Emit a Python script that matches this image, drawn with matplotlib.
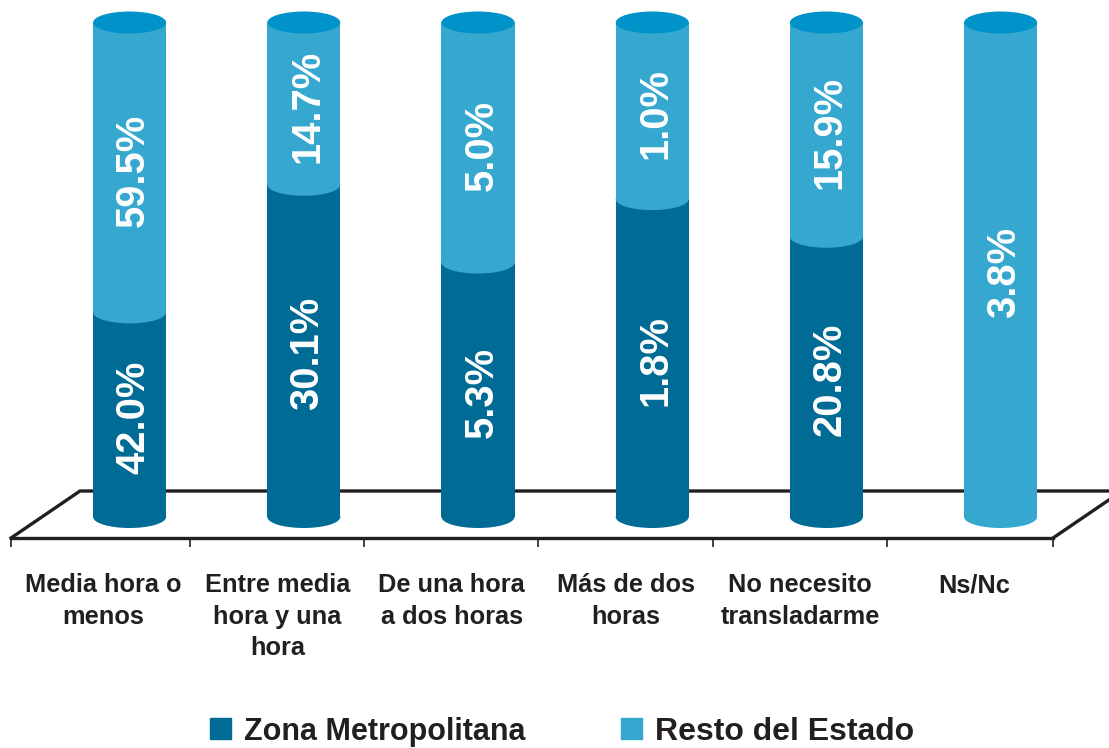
import numpy as np
import matplotlib
matplotlib.use("Agg")
import matplotlib.pyplot as plt
from matplotlib.patches import Ellipse, Patch

plt.rcParams['font.family'] = ['Liberation Sans', 'DejaVu Sans']

categories = ["Media hora o\nmenos", "Entre media\nhora y una\nhora", "De una hora\na dos horas",
              "Más de dos\nhoras", "No necesito\ntransladarme", "Ns/Nc"]
zona = np.array([42.0, 30.1, 5.3, 1.8, 20.8, 0.0])
resto = np.array([59.5, 14.7, 5.0, 1.0, 15.9, 3.8])
series_names = ["Zona Metropolitana", "Resto del Estado"]

DARK, LIGHT, TOP, INK = "#006B95", "#36A8CF", "#0093C9", "#231F20"
W, H = 1109, 748
fig = plt.figure(figsize=(W / 100, H / 100), dpi=100, facecolor="white")

# axes: bottom spine is the front edge of the floor
cat_px = 174.2
ax = fig.add_axes([11 / W, (H - 538) / H, 6 * cat_px / W, 538 / H])
y_px = 4.945
ax.set_xlim(-0.5, 5.5)
ax.set_ylim(-21 / y_px, 517 / y_px)

right_edge = -0.5 + (1053 - 11) / cat_px
depth_x = 69 / cat_px
shift_x = 31.5 / cat_px
bar_w = 73 / cat_px
ell_h = 22 / y_px
y0 = ax.get_ylim()[0]
floor_y = y0 + 47 / y_px

for s in ["top", "left", "right"]:
    ax.spines[s].set_visible(False)
ax.spines["bottom"].set_color(INK)
ax.spines["bottom"].set_linewidth(2.4)
ax.spines["bottom"].set_bounds(-0.5, right_edge)
ax.set_yticks([])
edge_ticks = [-0.5] + [i + 0.528 for i in range(5)] + [right_edge]
ax.set_xticks(edge_ticks)
ax.set_xticklabels([])
ax.tick_params(axis="x", which="major", length=6.5, width=1.2, color=INK)
ax.set_xticks(np.arange(6) + 0.03, labels=categories, minor=True)
ax.tick_params(axis="x", which="minor", length=0, pad=25.5, labelsize=18.3, labelcolor=INK)
for t in ax.get_xticklabels(minor=True):
    t.set_fontweight("bold")
    t.set_linespacing(1.38)

# floor
ax.plot([-0.5, -0.5 + depth_x, right_edge + depth_x], [y0, floor_y, floor_y], color=INK, lw=2.4,
        clip_on=False, zorder=1, solid_joinstyle="round")
ax.plot([right_edge, right_edge + depth_x], [y0, floor_y], color=INK, lw=2.4, clip_on=False, zorder=1)

total = zona + resto
z_pct = zona / total * 100
r_pct = resto / total * 100
xs = np.arange(6) + shift_x

ax.bar(xs, z_pct, width=bar_w, color=DARK, zorder=2)
ax.bar(xs, r_pct, width=bar_w, bottom=z_pct, color=LIGHT, zorder=2)

for x, z, r, zv, rv in zip(xs, z_pct, r_pct, zona, resto):
    if z > 0:
        ax.add_patch(Ellipse((x, 0), bar_w, ell_h, color=DARK, lw=0, zorder=2.5))
    ax.add_patch(Ellipse((x, z), bar_w, ell_h, color=LIGHT, lw=0, zorder=2.6))
    ax.add_patch(Ellipse((x, 100), bar_w, ell_h, color=TOP, lw=0, zorder=2.7))
    if zv > 0:
        ax.annotate(f"{zv:.1f}%", (x, z / 2), xytext=(2.5, -2), textcoords="offset points",
                    rotation=90, ha="center", va="center", color="white",
                    fontsize=28.7, fontweight="bold", zorder=4)
    ax.annotate(f"{rv:.1f}%", (x, z + r / 2), xytext=(2.5, -2), textcoords="offset points",
                rotation=90, ha="center", va="center", color="white",
                fontsize=28.7, fontweight="bold", zorder=4)

handles = [Patch(color=DARK), Patch(color=LIGHT)]
leg = fig.legend(handles, series_names, ncol=2, frameon=False, loc="lower left",
                 bbox_to_anchor=(189 / W, -20 / H), handlelength=0.67, handleheight=0.67,
                 handletextpad=0.42, columnspacing=3.15, borderpad=0.2, labelcolor=INK,
                 prop={"weight": "bold", "size": 22})
leg.get_texts()[1].set_fontsize(23)

fig.savefig("out.png", dpi=100)
